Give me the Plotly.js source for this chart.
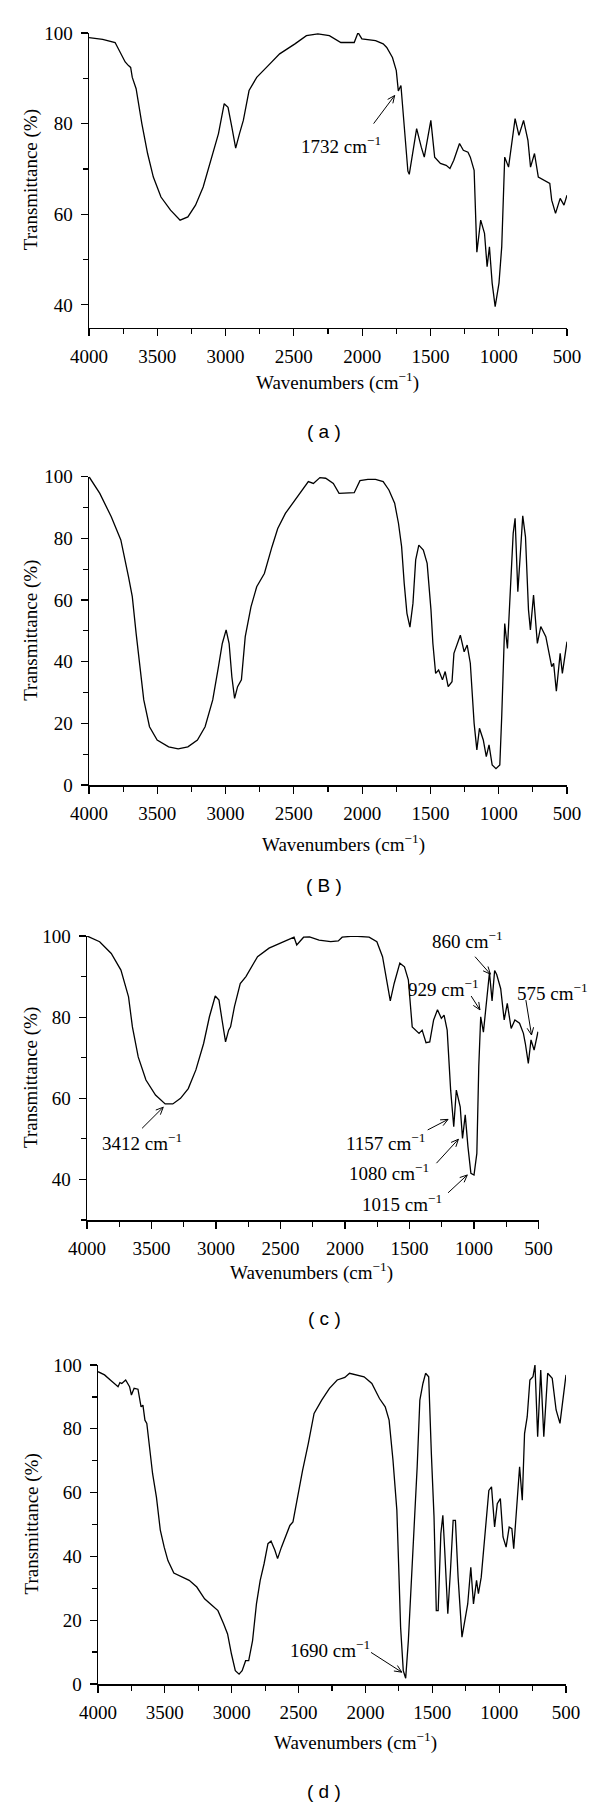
<!DOCTYPE html>
<html><head><meta charset="utf-8">
<script src="https://cdn.plot.ly/plotly-3.0.1.min.js"></script>
<style>html,body{margin:0;padding:0;background:#fff}</style>
</head><body><div id="chart" style="width:600px;height:1805px"></div>
<script>
// ---- Data (wavenumber cm^-1, transmittance %) ----
const wnA = [4000,3900,3809,3770,3753,3735,3711,3695,3683,3665,3655,3613,3571,3529,3473,3403,3333,3276,3220,3164,3108,3052,3010,2982,2954,2926,2898,2870,2828,2772,2688,2604,2492,2408,2324,2240,2156,2058,2030,2002,1902,1846,1820,1778,1750,1735,1716,1700,1685,1665,1655,1637,1601,1567,1545,1497,1469,1427,1385,1357,1329,1287,1259,1225,1208,1180,1160,1132,1104,1085,1068,1048,1026,998,978,956,928,880,852,818,786,767,738,710,668,626,612,584,550,522,500];
const tA = [99.0,98.6,97.9,95.8,94.6,93.6,92.8,92.4,90.2,88.5,87.7,80,73.4,68.2,63.8,60.9,58.7,59.4,62.0,66.0,71.9,77.8,84.4,83.6,79.2,74.6,77.8,80.7,87.3,90.2,92.8,95.4,97.6,99.4,99.8,99.4,97.9,97.9,100.1,98.7,98.3,97.6,96.8,94.6,91.7,87.2,88.4,82.9,76.3,69.5,68.8,71.9,78.9,74.8,72.6,80.7,72.6,71.2,70.8,70.1,71.9,75.6,74.1,73.7,72.6,69.7,51.6,58.7,55.8,48.4,52.8,44.8,39.6,44.8,52.8,72.6,70.4,81.1,77.4,80.7,76.3,70.4,73.4,68.2,67.5,66.8,63.1,60.2,63.5,62.0,64.2];

const wnB = [4000,3921,3837,3767,3711,3683,3655,3627,3599,3557,3501,3417,3347,3276,3206,3150,3094,3052,3024,2996,2974,2954,2934,2912,2884,2856,2814,2772,2716,2660,2618,2562,2506,2436,2394,2357,2309,2267,2211,2169,2127,2058,2016,1958,1902,1846,1804,1762,1734,1711,1692,1672,1650,1628,1608,1585,1552,1524,1496,1482,1462,1440,1412,1392,1370,1342,1328,1301,1281,1253,1231,1208,1180,1160,1141,1113,1091,1071,1048,1020,992,978,956,936,894,880,860,843,824,804,782,768,745,717,692,655,635,612,598,578,550,534,500];
const tB = [100,94.6,87.0,79.5,67.6,61.1,49.2,38.4,27.6,18.9,14.6,12.4,11.7,12.4,14.6,18.9,27.6,38.4,45.9,50.3,45.9,35.1,28.1,31.9,34.1,48.1,57.8,64.3,68.6,77.3,83.2,88.1,91.4,95.7,98.4,97.8,99.7,99.5,97.8,94.6,94.6,94.8,98.7,99.1,99.1,98.4,95.7,91.4,84.9,77.3,65.4,55.7,51.2,58.9,73.0,77.8,76.2,71.9,56.8,45.9,36.2,37.3,34.1,36.8,31.9,33.5,42.7,45.9,48.6,43.2,45.4,39.5,20.0,11.4,18.4,14.6,9.2,13.0,6.5,5.3,6.5,22.2,52.4,44.3,81.6,86.5,62.7,74.1,87.3,80.5,56.8,50.3,61.6,45.9,51.4,48.1,43.8,38.4,39.5,30.4,42.7,36.2,46.5];

const wnC = [4000,3902,3812,3737,3678,3648,3603,3543,3469,3394,3335,3275,3215,3156,3096,3051,3006,2977,2953,2926,2902,2887,2857,2812,2768,2678,2589,2499,2395,2374,2321,2275,2201,2111,2052,2022,1932,1813,1753,1709,1679,1649,1619,1575,1539,1509,1479,1450,1426,1402,1372,1343,1313,1283,1253,1232,1208,1181,1157,1137,1107,1089,1068,1047,1024,1000,978,963,948,927,894,880,860,840,824,793,766,742,712,683,647,617,602,579,558,534,504];
const tC = [100,98.6,95.7,91.6,85.0,77.6,70.2,64.5,60.8,58.6,58.6,60.0,62.4,67.0,73.5,80.1,85.2,84.2,79.3,73.9,76.8,77.6,82.6,88.3,90.0,94.9,97.0,98.2,99.7,97.8,99.7,99.8,99.0,98.6,98.8,99.7,100,99.7,98.6,94.9,89.2,84.0,88.3,93.3,92.4,89.2,77.6,76.8,76.0,76.8,73.7,73.9,79.3,81.8,79.7,80.5,76.8,62.0,53.0,62.0,57.9,50.1,55.9,48.1,41.5,41.1,46.4,67.8,80.1,76.3,88.0,91.0,84.0,91.5,90.5,87.0,79.3,83.4,77.2,79.3,78.5,76.0,73.5,68.6,74.4,71.9,76.4];

const wnD = [4000,3951,3908,3879,3850,3836,3822,3793,3764,3750,3730,3701,3678,3664,3649,3635,3612,3592,3563,3534,3505,3477,3433,3376,3318,3261,3203,3146,3103,3060,3031,3002,2973,2945,2922,2896,2873,2844,2815,2787,2758,2729,2706,2677,2657,2628,2600,2565,2542,2513,2470,2427,2384,2327,2269,2211,2154,2119,2067,2010,1952,1895,1852,1823,1794,1765,1751,1737,1717,1699,1679,1659,1636,1613,1593,1570,1550,1527,1507,1487,1470,1456,1436,1421,1407,1384,1364,1344,1327,1307,1278,1258,1235,1212,1192,1169,1155,1134,1114,1097,1077,1057,1034,1014,991,971,948,925,905,891,868,847,827,810,790,770,747,732,712,689,666,637,603,574,545,500];
const tD = [97.9,96.9,95.3,94.2,93.2,94.5,94.2,95.3,93.2,90.6,92.7,92.4,86.9,87.4,82.7,81.7,73.3,66.0,58.6,48.2,42.9,38.7,34.8,33.7,32.5,30.4,26.7,24.6,23.0,18.8,15.7,9.4,4.2,3.1,4.2,7.3,7.3,13.6,25.1,32.5,37.7,44.0,44.8,41.9,39.3,42.9,46.1,49.7,50.8,57.6,67.0,75.4,84.8,89.0,92.7,95.3,96.1,97.4,96.9,96.3,94.2,89.5,86.9,82.7,70.2,54.5,36.6,17.8,4.2,1.8,13.6,29.3,48.2,68.1,89.0,94.2,97.4,96.3,72.3,52.4,23.0,23.0,47.1,52.9,41.9,22.0,35.6,51.3,51.3,33.5,14.7,19.9,25.1,36.6,25.1,32.5,28.3,33.5,42.9,49.2,60.7,61.8,49.2,56.5,58.1,46.1,42.9,49.2,48.7,42.4,54.5,68.1,57.6,78.5,83.8,95.3,96.3,100,77.5,98.4,77.5,97.4,95.8,85.9,81.7,96.9];

const panelLabels = ['( a )', '( B )', '( c )', '( d )'];
const yRanges = [[35,100],[0,100],[30,100],[0,100]];
const xTitle = 'Wavenumbers (cm<sup>\u22121</sup>)';
const yTitle = 'Transmittance (%)';

// ---- Layout geometry (pixels) ----
const W = 600, H = 1805;
const SERIF = '"Liberation Serif", "DejaVu Serif", serif';
const SANS = '"Liberation Sans", Arial, sans-serif';
const FS = 19;
const boxes = [
  {l:89, r:567, t:33,  b:327.5, xt:337, yt:381.7, lab:431.7},
  {l:89, r:567, t:476.7, b:785, xt:343, yt:843,   lab:885},
  {l:87, r:538.5, t:936, b:1220, xt:311, yt:1271.7, lab:1318},
  {l:98, r:566, t:1365, b:1684, xt:355, yt:1741.7, lab:1791.7}
];
const series = [[wnA,tA],[wnB,tB],[wnC,tC],[wnD,tD]];

const layout = {
  width: W, height: H, margin: {l:0, r:0, t:0, b:0},
  paper_bgcolor: '#fff', plot_bgcolor: '#fff', showlegend: false,
  annotations: [], shapes: []
};
const data = [];
boxes.forEach((b, i) => {
  const n = i === 0 ? '' : String(i + 1);
  data.push({
    x: series[i][0], y: series[i][1], type: 'scatter', mode: 'lines',
    line: {color: '#000', width: 1.3}, xaxis: 'x' + n, yaxis: 'y' + n, hoverinfo: 'skip'
  });
  const common = {
    ticks: 'outside', ticklen: 7, tickwidth: 1.2, tickcolor: '#000',
    showline: true, linecolor: '#000', linewidth: 1.5, showgrid: false, zeroline: false,
    tickfont: {family: SERIF, size: FS, color: '#000'}, ticklabelstandoff: 4, fixedrange: true
  };
  layout['xaxis' + n] = Object.assign({}, common, {
    domain: [b.l / W, b.r / W], range: [4000, 500], autorange: false,
    tickmode: 'linear', tick0: 0, dtick: 500, anchor: 'y' + n,
    minor: {tick0: 0, dtick: 250, ticks: 'outside', ticklen: 5, tickwidth: 1.2, tickcolor: '#000', showgrid: false}
  });
  layout['yaxis' + n] = Object.assign({}, common, {
    domain: [1 - b.b / H, 1 - b.t / H], range: yRanges[i], autorange: false,
    tickmode: 'linear', tick0: 0, dtick: 20, anchor: 'x' + n,
    minor: {tick0: 0, dtick: 10, ticks: 'outside', ticklen: 5, tickwidth: 1.2, tickcolor: '#000', showgrid: false}
  });
  // axis titles and panel label
  layout.annotations.push({
    xref: 'paper', yref: 'paper', x: b.xt / W, y: 1 - b.yt / H, xanchor: 'center', yanchor: 'middle',
    text: xTitle, showarrow: false, font: {family: SERIF, size: FS, color: '#000'}
  });
  layout.annotations.push({
    xref: 'paper', yref: 'paper', x: 31 / W, y: 1 - ((b.t + b.b) / 2) / H, xanchor: 'center', yanchor: 'middle',
    text: yTitle, textangle: -90, showarrow: false, font: {family: SERIF, size: FS, color: '#000'}
  });
  layout.annotations.push({
    xref: 'paper', yref: 'paper', x: 324 / W, y: 1 - b.lab / H, xanchor: 'center', yanchor: 'middle',
    text: panelLabels[i], showarrow: false, font: {family: SANS, size: 19, color: '#000'}
  });
});

// peak labels: [panel, text, x, y, xanchor]
const peakLabels = [
  ['', '1732', 2155, 75.2, 'center'],
  ['3', '860', 1052, 99.0, 'center'],
  ['3', '929', 1234, 87.3, 'center'],
  ['3', '575', 682, 86.3, 'left'],
  ['3', '3412', 3573, 49.3, 'center'],
  ['3', '1157', 1688, 49.3, 'center'],
  ['3', '1080', 1658, 41.9, 'center'],
  ['3', '1015', 1562, 34.2, 'center'],
  ['4', '1690', 2263, 11.0, 'center']
];
// arrows: [panel, tailX, tailY, headX, headY]
const arrows = [
  ['', 1916, 80.0, 1762, 86.2],
  ['3', 992, 94.9, 873, 90.6],
  ['3', 1022, 85.2, 954, 81.8],
  ['3', 598, 84.2, 554, 75.6],
  ['3', 3573, 52.6, 3409, 57.8],
  ['3', 1359, 52.2, 1201, 54.8],
  ['3', 1291, 44.0, 1121, 49.9],
  ['3', 1201, 36.7, 1052, 41.1],
  ['4', 1958, 9.9, 1728, 3.7]
];
peakLabels.forEach(p => {
  layout.annotations.push({
    xref: 'x' + p[0], yref: 'y' + p[0], x: p[2], y: p[3], xanchor: p[4], yanchor: 'middle',
    text: p[1] + ' cm<sup>\u22121</sup>', showarrow: false, font: {family: SERIF, size: FS, color: '#000'}
  });
});
// arrows drawn as line + open arrowhead shapes in data coordinates of each panel
arrows.forEach(a => {
  const i = a[0] === '' ? 0 : (+a[0] - 1);
  const b = boxes[i], yr = yRanges[i];
  const sx = (b.r - b.l) / 3500, sy = (b.b - b.t) / (yr[1] - yr[0]);
  const toPx = (wn, t) => [b.l + (4000 - wn) * sx, b.b - (t - yr[0]) * sy];
  const toData = (px, py) => [4000 - (px - b.l) / sx, yr[0] + (b.b - py) / sy];
  const [tx, ty] = toPx(a[1], a[2]);
  const [hx, hy] = toPx(a[3], a[4]);
  let ux = hx - tx, uy = hy - ty;
  const L = Math.hypot(ux, uy); ux /= L; uy /= L;
  const len = 8, ang = 24 * Math.PI / 180;
  const wing = s => {
    const c = Math.cos(s * ang), si = Math.sin(s * ang);
    const rx = ux * c - uy * si, ry = ux * si + uy * c;
    return toData(hx - len * rx, hy - len * ry);
  };
  const w1 = wing(1), w2 = wing(-1);
  const ref = {xref: 'x' + a[0], yref: 'y' + a[0]};
  layout.shapes.push(Object.assign({type: 'line', x0: a[1], y0: a[2], x1: a[3], y1: a[4],
    line: {color: '#000', width: 1}}, ref));
  layout.shapes.push(Object.assign({type: 'path',
    path: 'M' + w1[0] + ',' + w1[1] + ' L' + a[3] + ',' + a[4] + ' L' + w2[0] + ',' + w2[1],
    line: {color: '#000', width: 1}}, ref));
});

Plotly.newPlot('chart', data, layout, {staticPlot: true, displayModeBar: false});
</script></body></html>
